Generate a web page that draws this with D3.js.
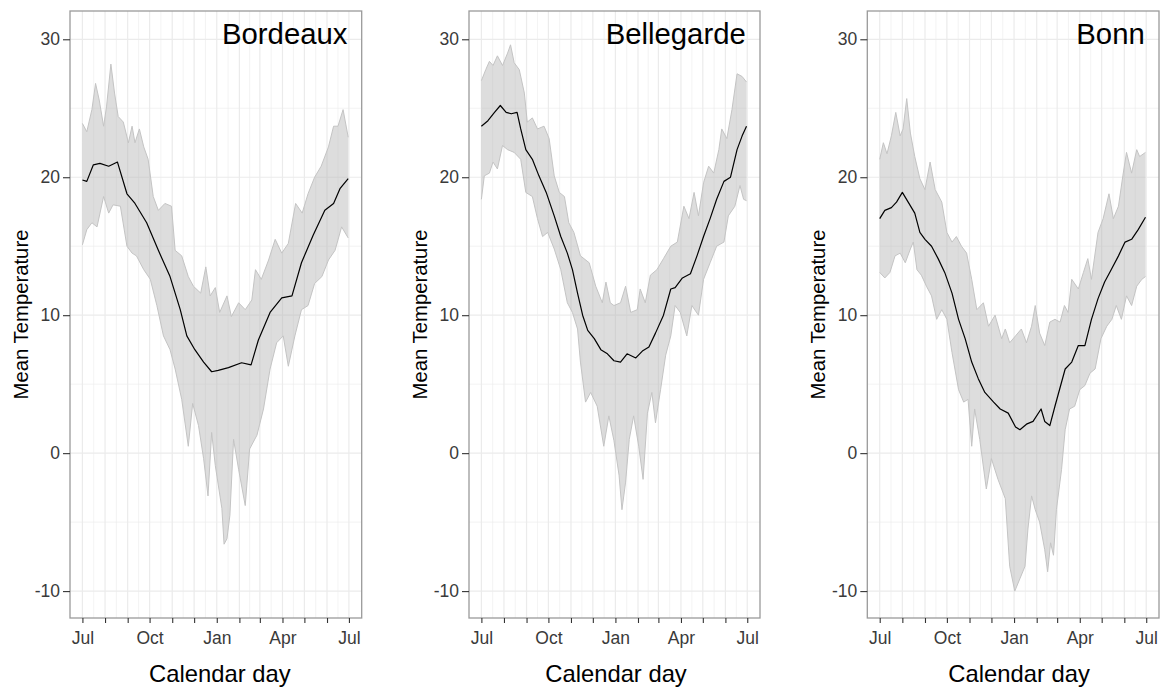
<!DOCTYPE html>
<html><head><meta charset="utf-8">
<script src="https://cdn.jsdelivr.net/npm/d3@7"></script>
<style>
body{margin:0;background:#fff}
svg{display:block}
text{font-family:"Liberation Sans",Arial,Helvetica,sans-serif}
</style>
</head><body>
<svg id="chart" width="1166" height="688"></svg>
<script>
// ---- data: [day since 1 July, temperature] ----
const stations = ["Bordeaux", "Bellegarde", "Bonn"];
const yTicks = [-10, 0, 10, 20, 30];
const yMinorTicks = [-5, 5, 15, 25];
const xTickLabels = {0: "Jul", 3: "Oct", 6: "Jan", 9: "Apr", 12: "Jul"};
const xTitle = "Calendar day";
const yTitle = "Mean Temperature";

const bordeauxMean = [[0,19.8],[6,19.7],[15,20.9],[24,21.0],[36,20.8],[48,21.1],[61,18.8],[72,18.1],[88,16.7],[104,14.7],[120,12.8],[134,10.4],[143,8.5],[154,7.5],[166,6.6],[177,5.9],[186,6.0],[200,6.2],[218,6.55],[231,6.4],[241,8.2],[257,10.2],[273,11.25],[287,11.4],[300,13.8],[316,15.8],[332,17.6],[344,18.1],[353,19.2],[364,19.9]];
const bordeauxUpper = [[0,23.9],[6,23.3],[13,24.9],[18,26.8],[23,25.6],[29,23.7],[33,25.1],[39,28.2],[44,26.1],[49,24.4],[56,24.0],[63,22.5],[68,23.7],[72,22.5],[78,23.5],[84,22.2],[90,21.3],[97,18.6],[104,17.6],[113,18.1],[122,17.9],[127,14.7],[136,14.3],[145,12.8],[152,12.1],[162,11.6],[169,13.5],[175,11.4],[182,12.0],[188,10.2],[198,11.4],[204,9.9],[214,10.9],[223,10.4],[232,11.1],[237,13.3],[245,12.6],[255,14.0],[264,15.5],[273,14.5],[282,15.2],[292,18.1],[301,17.4],[309,18.8],[318,20.0],[327,20.8],[337,22.2],[344,23.7],[350,23.7],[357,24.9],[364,22.9]];
const bordeauxLower = [[0,15.1],[6,16.2],[13,16.7],[20,16.4],[29,18.6],[36,17.4],[42,18.0],[52,17.9],[61,15.0],[68,14.5],[74,14.3],[84,13.3],[93,12.6],[102,10.7],[111,8.5],[120,7.5],[127,6.1],[136,3.9],[145,0.5],[151,3.6],[159,2.0],[166,-0.4],[172,-3.1],[177,1.5],[182,-0.9],[191,-4.0],[194,-6.6],[198,-6.2],[202,-4.5],[207,1.0],[214,-1.2],[223,-3.8],[229,0.3],[239,1.3],[248,3.2],[257,6.1],[266,8.0],[275,8.5],[282,6.3],[291,8.5],[300,10.4],[309,10.7],[318,12.3],[328,12.8],[337,14.0],[346,14.7],[355,16.4],[364,15.6]];

const bellegardeMean = [[0,23.7],[9,24.1],[18,24.7],[26,25.2],[34,24.7],[41,24.6],[49,24.7],[54,23.5],[61,22.0],[70,21.3],[79,20.1],[89,18.9],[100,17.2],[109,15.7],[118,14.5],[125,13.3],[132,11.6],[139,10.0],[146,8.9],[155,8.3],[164,7.5],[173,7.2],[182,6.7],[191,6.6],[200,7.2],[212,6.9],[221,7.4],[230,7.7],[239,8.7],[250,10.0],[260,11.9],[266,12.0],[276,12.7],[287,13.0],[296,14.3],[305,15.7],[314,17.0],[323,18.4],[333,19.7],[342,20.0],[351,22.0],[358,23.0],[364,23.7]];
const bellegardeUpper = [[0,27.0],[6,27.8],[11,28.4],[16,28.1],[22,28.8],[29,28.1],[36,29.0],[40,29.6],[45,28.3],[52,27.8],[59,26.1],[63,24.0],[70,24.3],[77,23.5],[86,23.7],[93,22.8],[100,20.1],[107,18.9],[114,18.6],[120,16.7],[127,16.0],[136,14.3],[148,13.8],[157,12.1],[166,10.9],[171,12.4],[177,10.9],[182,10.7],[191,10.9],[198,12.1],[205,10.2],[214,10.4],[218,11.9],[225,10.9],[232,12.9],[241,13.3],[250,14.1],[260,15.0],[269,15.3],[278,17.9],[285,17.0],[292,18.9],[298,17.2],[305,19.6],[312,20.8],[319,20.3],[326,22.0],[330,23.5],[337,22.8],[344,24.9],[351,27.5],[358,27.3],[364,26.9]];
const bellegardeLower = [[0,18.4],[4,20.1],[11,20.3],[16,21.1],[22,20.6],[29,22.3],[36,22.0],[45,21.8],[54,21.3],[61,18.9],[70,18.6],[77,17.0],[84,15.7],[91,16.0],[100,14.8],[109,13.3],[118,10.9],[125,10.2],[132,9.0],[136,6.6],[143,3.7],[150,4.4],[159,3.4],[168,0.5],[175,2.7],[182,0.9],[189,-1.6],[193,-4.1],[198,-2.1],[203,1.0],[209,2.7],[216,0.5],[222,-1.9],[228,2.9],[234,4.4],[239,2.2],[246,4.6],[253,7.1],[260,8.5],[266,10.7],[273,10.2],[282,8.5],[289,10.7],[298,10.0],[305,12.6],[314,13.8],[323,15.0],[333,15.3],[339,17.2],[348,17.9],[355,19.4],[360,18.4],[364,18.3]];

const bonnMean = [[0,17.0],[7,17.6],[16,17.8],[23,18.2],[31,18.9],[39,18.2],[48,17.4],[55,16.0],[62,15.5],[71,15.0],[80,14.1],[89,13.1],[99,11.6],[108,9.7],[117,8.3],[126,6.6],[135,5.4],[144,4.4],[156,3.7],[165,3.2],[176,2.9],[186,1.9],[192,1.7],[201,2.1],[210,2.3],[221,3.2],[226,2.3],[233,2.0],[240,3.4],[254,6.1],[263,6.6],[272,7.8],[281,7.8],[290,9.7],[299,11.2],[308,12.4],[317,13.3],[327,14.3],[336,15.3],[345,15.5],[354,16.2],[364,17.1]];
const bonnUpper = [[0,21.3],[5,22.5],[10,21.7],[16,23.0],[22,24.7],[28,23.0],[32,23.5],[37,25.7],[42,23.2],[48,21.5],[55,19.9],[62,19.1],[69,21.1],[76,19.1],[85,18.2],[92,16.0],[99,15.3],[105,15.7],[112,15.0],[119,14.5],[126,12.6],[133,10.4],[142,10.9],[149,9.2],[158,10.0],[167,8.3],[172,9.0],[178,8.0],[186,8.5],[194,9.0],[201,8.0],[208,9.2],[213,10.7],[219,8.7],[226,7.8],[233,9.5],[240,9.7],[247,9.5],[253,10.7],[258,10.2],[263,12.6],[272,11.9],[279,13.1],[285,14.1],[290,12.6],[299,16.0],[306,17.0],[314,18.8],[320,17.0],[327,17.9],[333,20.1],[338,21.8],[345,20.3],[352,22.0],[356,21.5],[364,21.8]];
const bonnLower = [[0,13.1],[7,12.7],[14,13.1],[21,14.3],[28,14.5],[35,13.8],[42,14.8],[46,15.3],[51,13.3],[57,12.9],[64,12.1],[71,11.4],[78,9.7],[85,10.4],[92,9.7],[99,7.3],[108,4.6],[115,3.7],[121,3.9],[126,0.5],[130,3.2],[137,1.0],[146,-2.6],[153,-0.4],[162,-1.9],[172,-3.3],[178,-8.2],[185,-10.0],[192,-9.1],[199,-8.2],[203,-5.5],[208,-3.1],[213,-4.1],[219,-5.0],[226,-7.0],[230,-8.6],[234,-6.5],[238,-7.4],[242,-4.1],[249,-1.2],[254,1.7],[260,3.2],[267,3.4],[274,4.6],[281,4.9],[288,5.8],[295,6.1],[303,8.3],[311,9.2],[318,9.7],[324,10.7],[331,9.7],[338,11.4],[345,10.7],[352,12.1],[359,12.6],[364,12.8]];

// ---- layout ----
const svg = d3.select("#chart");
const plotTop = 11, plotBottom = 618;
const panels = [
  {name: stations[0], mean: bordeauxMean, upper: bordeauxUpper, lower: bordeauxLower, left: 70, right: 361.7, titleDx: 4},
  {name: stations[1], mean: bellegardeMean, upper: bellegardeUpper, lower: bellegardeLower, left: 469, right: 760, titleDx: 1.5},
  {name: stations[2], mean: bonnMean, upper: bonnUpper, lower: bonnLower, left: 867.3, right: 1159, titleDx: 6}
];

const base = new Date(Date.UTC(2001, 6, 1));
const toDate = d => new Date(base.getTime() + d * 86400000);
const endJul = d3.utcMonth.offset(base, 12);
const monthTicks = d3.utcMonth.range(base, d3.utcDay.offset(endJul, 1));
const minorTicks = d3.pairs(monthTicks).map(([a, b]) => new Date((a.getTime() + b.getTime()) / 2));

const y = d3.scaleLinear().domain([-11.95, 32.05]).range([plotBottom, plotTop]);

panels.forEach(p => {
  const x = d3.scaleUtc().domain([toDate(-17), toDate(382.5)]).range([p.left, p.right]);
  const g = svg.append("g");

  // grid
  const grid = g.append("g").attr("stroke", "#ebebeb").attr("fill", "none");
  grid.selectAll(".hmin").data(yMinorTicks).join("line")
    .attr("x1", p.left).attr("x2", p.right).attr("y1", d => y(d)).attr("y2", d => y(d)).attr("stroke-width", 0.6);
  grid.selectAll(".vmin").data(minorTicks).join("line")
    .attr("y1", plotTop).attr("y2", plotBottom).attr("x1", d => x(d)).attr("x2", d => x(d)).attr("stroke-width", 0.6);
  grid.selectAll(".hmaj").data(yTicks).join("line")
    .attr("x1", p.left).attr("x2", p.right).attr("y1", d => y(d)).attr("y2", d => y(d)).attr("stroke-width", 1.2);
  grid.selectAll(".vmaj").data(monthTicks).join("line")
    .attr("y1", plotTop).attr("y2", plotBottom).attr("x1", d => x(d)).attr("x2", d => x(d)).attr("stroke-width", 1.2);

  const line = d3.line().x(d => x(toDate(d[0]))).y(d => y(d[1]));

  // ribbon
  g.append("path")
    .attr("d", line(p.upper.concat(p.lower.slice().reverse())) + "Z")
    .attr("fill", "#b4b4b4").attr("fill-opacity", 0.45).attr("stroke", "none");
  g.append("path").attr("d", line(p.upper)).attr("fill", "none").attr("stroke", "#c4c4c4").attr("stroke-width", 1);
  g.append("path").attr("d", line(p.lower)).attr("fill", "none").attr("stroke", "#c4c4c4").attr("stroke-width", 1);

  // mean line
  g.append("path").attr("d", line(p.mean)).attr("fill", "none").attr("stroke", "#000").attr("stroke-width", 1.2)
    .attr("stroke-linejoin", "round");

  // border
  g.append("rect").attr("x", p.left).attr("y", plotTop).attr("width", p.right - p.left).attr("height", plotBottom - plotTop)
    .attr("fill", "none").attr("stroke", "#9a9a9a").attr("stroke-width", 1.3);

  // axes
  const ya = g.append("g").attr("transform", `translate(${p.left},0)`)
    .call(d3.axisLeft(y).tickValues(yTicks).tickSize(7).tickPadding(3).tickFormat(d => String(d)));
  const xa = g.append("g").attr("transform", `translate(0,${plotBottom})`)
    .call(d3.axisBottom(x).tickValues(monthTicks).tickSize(5).tickPadding(9)
      .tickFormat((d, i) => xTickLabels[i] || ""));
  [ya, xa].forEach(a => {
    a.select(".domain").remove();
    a.selectAll(".tick line").attr("stroke", "#333").attr("stroke-width", 1.1);
    a.selectAll(".tick text").attr("fill", "#3a3a3a").style("font-size", "17.5px")
      .style("font-family", '"Liberation Sans", Arial, sans-serif');
  });

  // station title
  g.append("text").attr("x", x(endJul) - 1.5).attr("y", 43.5).attr("text-anchor", "end")
    .style("font-size", "29.3px").attr("fill", "#000").text(p.name);

  // axis titles
  g.append("text").attr("transform", `translate(${p.left - 42},${(plotTop + plotBottom) / 2}) rotate(-90)`)
    .attr("text-anchor", "middle").style("font-size", "20.3px").attr("fill", "#000").text(yTitle);
  g.append("text").attr("x", (p.left + p.right) / 2 + p.titleDx).attr("y", 682)
    .attr("text-anchor", "middle").style("font-size", "23.8px").attr("fill", "#000").text(xTitle);
});
</script>
</body></html>
